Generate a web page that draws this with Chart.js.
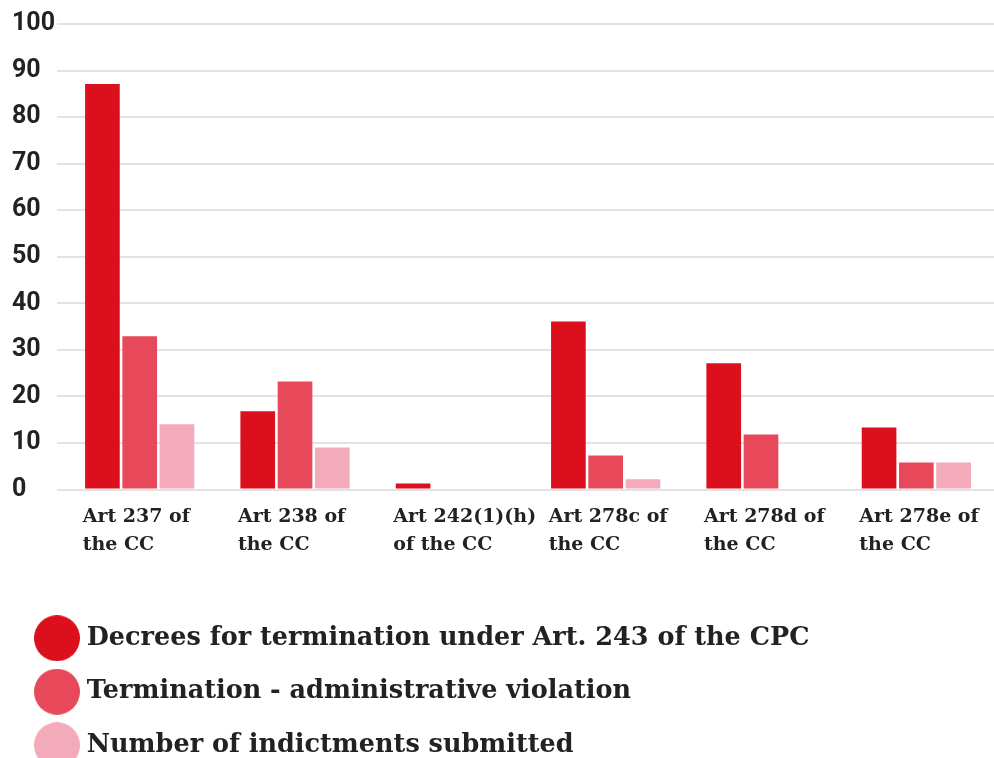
<!DOCTYPE html>
<html>
<head>
<meta charset="utf-8">
<script src="https://cdn.jsdelivr.net/npm/chart.js@4"></script>
<style>
  html, body { margin: 0; padding: 0; background: #fff; overflow: hidden; }
  #wrap { position: relative; width: 994px; height: 768px; }
</style>
</head>
<body>
<div id="wrap"><canvas id="barchart"></canvas></div>
<script>
const categories = [
  ['Art 237 of', 'the CC'],
  ['Art 238 of', 'the CC'],
  ['Art 242(1)(h)', 'of the CC'],
  ['Art 278c of', 'the CC'],
  ['Art 278d of', 'the CC'],
  ['Art 278e of', 'the CC']
];
const seriesNames = [
  'Decrees for termination under Art. 243 of the CPC',
  'Termination - administrative violation',
  'Number of indictments submitted'
];
const decrees = [87.1, 16.8, 1.3, 36.1, 27.1, 13.3];
const adminViolation = [32.9, 23.2, 0, 7.3, 11.8, 5.8];
const indictments = [14.0, 9.0, 0, 2.2, 0, 5.8];
const yTicks = [0, 10, 20, 30, 40, 50, 60, 70, 80, 90, 100];

const colors = ['#dc0f1c', '#e8495a', '#f3aaba'];

// round legend markers
function dot(color) {
  const c = document.createElement('canvas');
  c.width = 46; c.height = 46;
  const g = c.getContext('2d');
  g.fillStyle = color;
  g.beginPath();
  g.arc(23, 23, 23, 0, Math.PI * 2);
  g.fill();
  return c;
}

const slab = '"DejaVu Serif", serif';

const ctx = document.getElementById('barchart').getContext('2d');
const barchart = new Chart(ctx, {
  type: 'bar',
  data: {
    labels: categories,
    datasets: [
      { label: seriesNames[0], data: decrees, backgroundColor: colors[0], pointStyle: dot(colors[0]) },
      { label: seriesNames[1], data: adminViolation, backgroundColor: colors[1], pointStyle: dot(colors[1]) },
      { label: seriesNames[2], data: indictments, backgroundColor: colors[2], pointStyle: dot(colors[2]) }
    ]
  },
  options: {
    responsive: true,
    maintainAspectRatio: false,
    animation: false,
    datasets: {
      bar: { categoryPercentage: 0.72, barPercentage: 0.93 }
    },
    layout: { padding: { top: 24, left: 12, right: 0, bottom: 0 } },
    plugins: {
      tooltip: { enabled: false },
      legend: {
        position: 'bottom',
        align: 'start',
        labels: {
          usePointStyle: true,
          pointStyleWidth: 34,
          padding: 28,
          color: '#222',
          font: { family: slab, size: 25.5, weight: 'bold' }
        }
      }
    },
    scales: {
      x: {
        grid: { display: false, drawTicks: false },
        border: { display: false },
        afterFit: (s) => { s.height = 108; s.paddingLeft = 0; s.paddingRight = 0; },
        ticks: {
          autoSkip: false,
          maxRotation: 0,
          align: 'start',
          labelOffset: -57,
          padding: 14,
          color: '#222',
          font: { family: slab, size: 19, weight: 'bold', lineHeight: 1.45 }
        }
      },
      y: {
        min: 0,
        max: 100,
        afterBuildTicks: (s) => { s.ticks = yTicks.map(v => ({ value: v })); },
        grid: { color: '#e3e3e3', lineWidth: 2, tickLength: 5, tickColor: '#e3e3e3' },
        border: { display: false },
        ticks: {
          crossAlign: 'far',
          padding: 1,
          color: '#222',
          font: { family: 'Roboto', size: 25, weight: 'bold' }
        }
      }
    }
  }
});
</script>
</body>
</html>
